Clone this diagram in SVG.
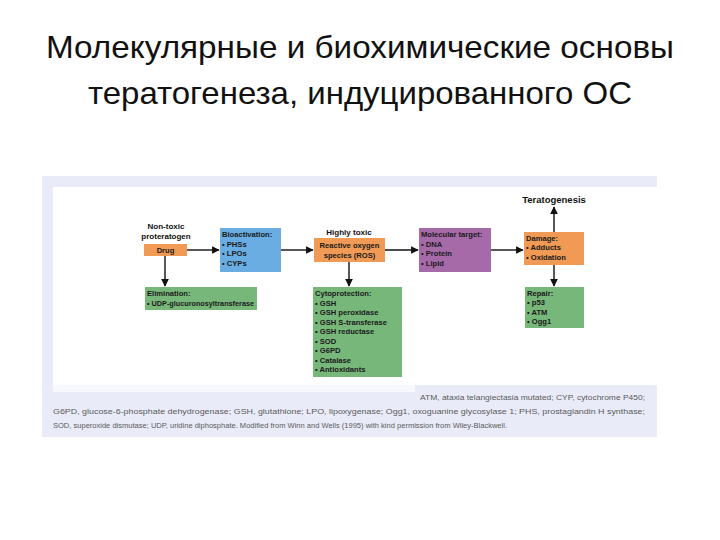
<svg xmlns="http://www.w3.org/2000/svg" width="720" height="540" viewBox="0 0 720 540">
<defs>
<style>
.title{font-family:"Liberation Sans","Noto Sans",sans-serif;font-size:32px;fill:#111;text-anchor:middle}
.t{font-family:"Liberation Sans",Arial,sans-serif;font-size:7.6px;font-weight:bold;fill:#1a1a1a}
.c{text-anchor:middle}
.lbl{font-family:"Liberation Sans",Arial,sans-serif;font-size:8px;font-weight:bold;fill:#111;text-anchor:middle}
.cap{font-family:"Liberation Sans",Arial,sans-serif;font-size:8px;fill:#5a5a5a}
.orange{fill:#f19a55}
.blue{fill:#69ade2}
.green{fill:#78b77a}
.purple{fill:#a66aa9}
.line{stroke:#111;stroke-width:1.4;fill:none;marker-end:url(#ah)}
</style>
<marker id="ah" viewBox="0 0 10 10" refX="9" refY="5" markerWidth="5.5" markerHeight="5.5" orient="auto" markerUnits="strokeWidth">
<path d="M0,0 L10,5 L0,10 Z" fill="#111"/>
</marker>
</defs>
<rect width="720" height="540" fill="#ffffff"/>
<g id="title">
<text class="title" x="360" y="58" textLength="628" lengthAdjust="spacingAndGlyphs">Молекулярные и биохимические основы</text>
<text class="title" x="360" y="104" textLength="544" lengthAdjust="spacingAndGlyphs">тератогенеза, индуцированного ОС</text>
</g>
<g id="panel">
<rect x="42" y="176" width="615" height="261" fill="#e9ecf8"/>
<rect x="53" y="187" width="604" height="198" fill="#ffffff"/>
<rect x="53" y="385" width="362" height="7" fill="#f7f8fd"/>
</g>
<g id="connectors">
<line class="line" x1="187" y1="250" x2="219" y2="250"/>
<line class="line" x1="165" y1="256" x2="165" y2="286"/>
<line class="line" x1="281" y1="250" x2="313" y2="250"/>
<line class="line" x1="349" y1="262" x2="349" y2="286"/>
<line class="line" x1="385" y1="250" x2="418" y2="250"/>
<line class="line" x1="491" y1="250" x2="523" y2="250"/>
<line class="line" x1="554" y1="232" x2="554" y2="207"/>
<line class="line" x1="554" y1="265" x2="554" y2="286"/>
</g>
<g id="drug">
<text class="lbl" x="166" y="229">Non-toxic</text>
<text class="lbl" x="166" y="239">proteratogen</text>
<rect class="orange" x="144" y="244" width="43" height="12"/>
<text class="t c" x="165.5" y="253">Drug</text>
</g>
<g id="bioactivation">
<rect class="blue" x="220" y="228" width="61" height="44"/>
<text class="t" x="222" y="237">Bioactivation:</text>
<text class="t" x="222" y="246.5">• PHSs</text>
<text class="t" x="222" y="256">• LPOs</text>
<text class="t" x="222" y="265.5">• CYPs</text>
</g>
<g id="elimination">
<rect class="green" x="145" y="287" width="112" height="23"/>
<text class="t" x="147" y="296">Elimination:</text>
<text class="t" x="147" y="305.5" textLength="107" lengthAdjust="spacingAndGlyphs">• UDP-glucuronosyltransferase</text>
</g>
<g id="ros">
<text class="lbl" x="349" y="235">Highly toxic</text>
<rect class="orange" x="314" y="238" width="71" height="24"/>
<text class="t c" x="349.5" y="247.5">Reactive oxygen</text>
<text class="t c" x="349.5" y="257.5">species (ROS)</text>
</g>
<g id="cytoprotection">
<rect class="green" x="313" y="287" width="89" height="90"/>
<text class="t" x="315" y="296">Cytoprotection:</text>
<text class="t" x="315" y="305.5">• GSH</text>
<text class="t" x="315" y="315">• GSH peroxidase</text>
<text class="t" x="315" y="324.5">• GSH S-transferase</text>
<text class="t" x="315" y="334">• GSH reductase</text>
<text class="t" x="315" y="343.5">• SOD</text>
<text class="t" x="315" y="353">• G6PD</text>
<text class="t" x="315" y="362.5">• Catalase</text>
<text class="t" x="315" y="372">• Antioxidants</text>
</g>
<g id="target">
<rect class="purple" x="419" y="228" width="72" height="44"/>
<text class="t" x="421" y="237">Molecular target:</text>
<text class="t" x="421" y="246.5">• DNA</text>
<text class="t" x="421" y="256">• Protein</text>
<text class="t" x="421" y="265.5">• Lipid</text>
</g>
<g id="damage">
<rect class="orange" x="524" y="232" width="60" height="33"/>
<text class="t" x="526" y="240.5">Damage:</text>
<text class="t" x="526" y="250">• Adducts</text>
<text class="t" x="526" y="259.5">• Oxidation</text>
</g>
<g id="teratogenesis">
<text class="lbl" x="554" y="203" style="font-size:9.5px">Teratogenesis</text>
</g>
<g id="repair">
<rect class="green" x="525" y="287" width="59" height="41"/>
<text class="t" x="527" y="295.5">Repair:</text>
<text class="t" x="527" y="305">• p53</text>
<text class="t" x="527" y="314.5">• ATM</text>
<text class="t" x="527" y="324">• Ogg1</text>
</g>
<g id="caption">
<text class="cap" x="420" y="400" textLength="225" lengthAdjust="spacingAndGlyphs">ATM, ataxia telangiectasia mutated; CYP, cytochrome P450;</text>
<text class="cap" x="53" y="414" textLength="592" lengthAdjust="spacingAndGlyphs">G6PD, glucose-6-phosphate dehydrogenase; GSH, glutathione; LPO, lipoxygenase; Ogg1, oxoguanine glycosylase 1; PHS, prostaglandin H synthase;</text>
<text class="cap" x="53" y="428" textLength="454" lengthAdjust="spacingAndGlyphs">SOD, superoxide dismutase; UDP, uridine diphosphate. Modified from Winn and Wells (1995) with kind permission from Wiley-Blackwell.</text>
</g>
</svg>
